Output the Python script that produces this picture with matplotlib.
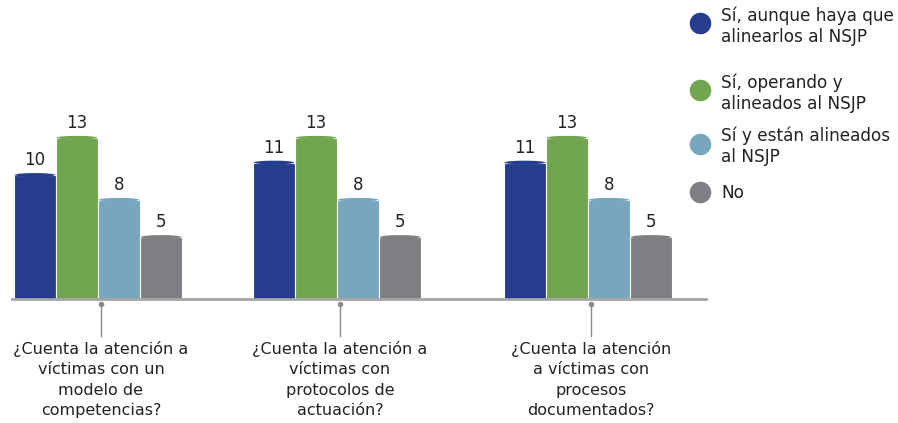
import matplotlib.pyplot as plt
from matplotlib.patches import Ellipse
import numpy as np

# data
questions = [
    "¿Cuenta la atención a\nvíctimas con un\nmodelo de\ncompetencias?",
    "¿Cuenta la atención a\nvíctimas con\nprotocolos de\nactuación?",
    "¿Cuenta la atención\na víctimas con\nprocesos\ndocumentados?",
]
series_names = [
    "Sí, aunque haya que\nalinearlos al NSJP",
    "Sí, operando y\nalineados al NSJP",
    "Sí y están alineados\nal NSJP",
    "No",
]
aunque_alinear = [10, 11, 11]
operando_alineados = [13, 13, 13]
estan_alineados = [8, 8, 8]
no_vals = [5, 5, 5]

series_values = [aunque_alinear, operando_alineados, estan_alineados, no_vals]
colors = ["#253D8C", "#72A54F", "#77A6BD", "#7F7F83"]

plt.rcParams['font.family'] = ['DejaVu Sans']

W, H = 898, 423
fig = plt.figure(figsize=(W / 100, H / 100), dpi=100)

# main axes in pixel placement
ax_left, ax_right, ax_bottom_px = 12, 706, 299
ax = fig.add_axes([ax_left / W, (H - ax_bottom_px) / H, (ax_right - ax_left) / W, ax_bottom_px / H])

group_x = np.array([0.0, 1.0, 2.05])
bar_w = 0.176
offsets = (np.arange(4) - 1.5) * bar_w

for i, vals in enumerate(series_values):
    xs = group_x + offsets[i]
    ax.bar(xs, vals, width=bar_w, color=colors[i], edgecolor="white", linewidth=0.8)
    for x, v in zip(xs, vals):
        # slightly domed top like the original
        ax.add_patch(Ellipse((x, v), bar_w - 0.006, 0.3, color=colors[i], linewidth=0))
        ax.text(x, v + 0.45, str(v), ha="center", va="bottom", fontsize=12,
                color="#222222")

ax.set_xlim(-0.36, 2.544)
ax.set_ylim(0, 24.1)
ax.axis("off")
ax.axhline(0, color="#A6A6A6", linewidth=2, clip_on=False)

# small ticks with dot under each group
for x, q in zip(group_x, questions):
    tx = x + 0.012
    ax.plot([tx, tx], [-0.38, -2.95], color="#8C8C8C", linewidth=1, clip_on=False)
    ax.plot([tx], [-0.38], marker="o", markersize=3, color="#8C8C8C", clip_on=False)
    ax.text(tx, -3.35, q, ha="center", va="top", fontsize=11.5, color="#222222",
            linespacing=1.47)

# legend drawn on an overlay in pixel coords
lax = fig.add_axes([0, 0, 1, 1])
lax.set_xlim(0, W)
lax.set_ylim(H, 0)
lax.axis("off")
marker_y = [23, 90, 144, 192]
text_y = [26, 93, 146, 193]
for name, c, my, ty in zip(series_names, colors, marker_y, text_y):
    lax.plot([700], [my], marker="o", markersize=14.5, color=c, linestyle="none")
    lax.text(721, ty, name, ha="left", va="center", fontsize=12.2, color="#222222",
             linespacing=1.22)

fig.savefig("out.png", dpi=100)
